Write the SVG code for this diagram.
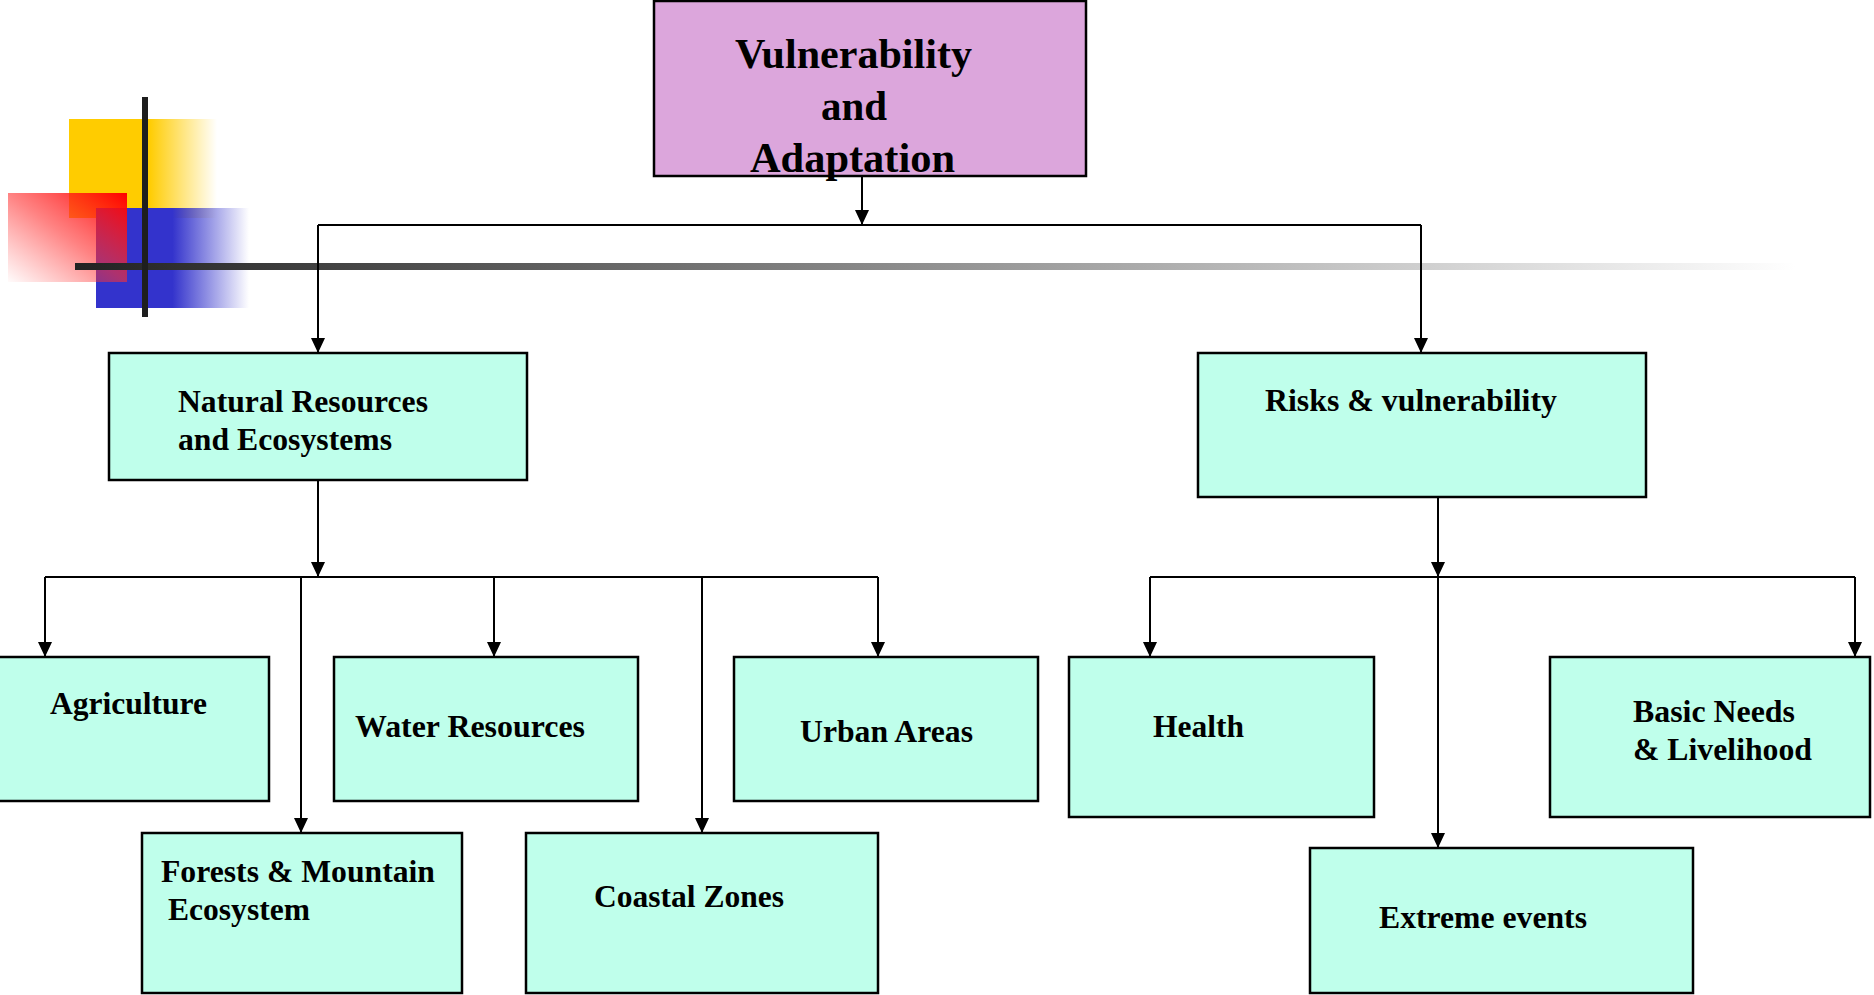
<svg xmlns="http://www.w3.org/2000/svg" width="1874" height="995" viewBox="0 0 1874 995">
  <style>
    .box { fill: #BFFFEB; stroke: #000; stroke-width: 2.5; }
    .top { fill: #DCA6DC; stroke: #000; stroke-width: 2.5; }
    .lbl { font-family: "Liberation Serif", "Times New Roman", serif; font-weight: bold; font-size: 31.5px; fill: #000; }
    .ttl { font-family: "Liberation Serif", "Times New Roman", serif; font-weight: bold; font-size: 42px; fill: #000; }
    .con { fill: none; stroke: #000; stroke-width: 2; }
    .arr { fill: none; stroke: #000; stroke-width: 2; marker-end: url(#head); }
  </style>
  <defs>
    <marker id="head" viewBox="0 0 15 14" refX="15" refY="7" markerWidth="15" markerHeight="14" markerUnits="userSpaceOnUse" orient="auto">
      <path d="M0,0 L15,7 L0,14 z" fill="#000"/>
    </marker>
    <linearGradient id="yellowFade" x1="0" y1="0" x2="1" y2="0">
      <stop offset="0" stop-color="#FFCC00"/>
      <stop offset="0.54" stop-color="#FFCC00"/>
      <stop offset="1" stop-color="#FFCC00" stop-opacity="0"/>
    </linearGradient>
    <linearGradient id="blueFade" x1="0" y1="0" x2="1" y2="0">
      <stop offset="0" stop-color="#3333CC"/>
      <stop offset="0.5" stop-color="#3333CC"/>
      <stop offset="1" stop-color="#3333CC" stop-opacity="0"/>
    </linearGradient>
    <linearGradient id="redFade" x1="1" y1="0" x2="0" y2="1">
      <stop offset="0" stop-color="#FF0000" stop-opacity="1"/>
      <stop offset="0.5" stop-color="#FF3030" stop-opacity="0.6"/>
      <stop offset="1" stop-color="#FF4040" stop-opacity="0.02"/>
    </linearGradient>
    <linearGradient id="barFade" gradientUnits="userSpaceOnUse" x1="75" y1="0" x2="1795" y2="0">
      <stop offset="0" stop-color="#222222"/>
      <stop offset="1" stop-color="#FFFFFF"/>
    </linearGradient>
  </defs>

  <!-- corner ornament -->
  <g id="ornament">
    <rect x="69" y="119" width="148" height="99" fill="url(#yellowFade)"/>
    <rect x="96" y="208" width="153" height="100" fill="url(#blueFade)"/>
    <rect x="8" y="193" width="119" height="89" fill="url(#redFade)"/>
    <rect x="75" y="263" width="1720" height="7" fill="url(#barFade)"/>
    <rect x="142" y="97" width="6" height="220" fill="#1E1E1E"/>
  </g>

  <!-- connectors -->
  <g id="connectors">
    <line class="arr" x1="862" y1="176" x2="862" y2="225"/>
    <line class="con" x1="318" y1="225" x2="1421" y2="225"/>
    <line class="arr" x1="318" y1="225" x2="318" y2="353"/>
    <line class="arr" x1="1421" y1="225" x2="1421" y2="353"/>

    <line class="arr" x1="318" y1="480" x2="318" y2="577"/>
    <line class="con" x1="45" y1="577" x2="878" y2="577"/>
    <line class="arr" x1="45" y1="577" x2="45" y2="657"/>
    <line class="arr" x1="301" y1="577" x2="301" y2="833"/>
    <line class="arr" x1="494" y1="577" x2="494" y2="657"/>
    <line class="arr" x1="702" y1="577" x2="702" y2="833"/>
    <line class="arr" x1="878" y1="577" x2="878" y2="657"/>

    <line class="arr" x1="1438" y1="497" x2="1438" y2="577"/>
    <line class="con" x1="1150" y1="577" x2="1855" y2="577"/>
    <line class="arr" x1="1150" y1="577" x2="1150" y2="657"/>
    <line class="arr" x1="1438" y1="577" x2="1438" y2="848"/>
    <line class="arr" x1="1855" y1="577" x2="1855" y2="657"/>
  </g>

  <g id="vulnerability-adaptation">
    <rect class="top" x="654" y="1" width="432" height="175"/>
    <text class="ttl" x="735" y="68" textLength="237" lengthAdjust="spacingAndGlyphs">Vulnerability</text>
    <text class="ttl" x="821" y="120" textLength="66" lengthAdjust="spacingAndGlyphs">and</text>
    <text class="ttl" x="750" y="172" textLength="205" lengthAdjust="spacingAndGlyphs">Adaptation</text>
  </g>

  <g id="natural-resources">
    <rect class="box" x="109" y="353" width="418" height="127"/>
    <text class="lbl" x="178" y="412" textLength="250" lengthAdjust="spacingAndGlyphs">Natural Resources</text>
    <text class="lbl" x="178" y="450" textLength="214" lengthAdjust="spacingAndGlyphs">and Ecosystems</text>
  </g>

  <g id="risks-vulnerability">
    <rect class="box" x="1198" y="353" width="448" height="144"/>
    <text class="lbl" x="1265" y="411" textLength="292" lengthAdjust="spacingAndGlyphs">Risks &amp; vulnerability</text>
  </g>

  <g id="agriculture">
    <rect class="box" x="-2" y="657" width="271" height="144"/>
    <text class="lbl" x="50" y="714" textLength="157" lengthAdjust="spacingAndGlyphs">Agriculture</text>
  </g>

  <g id="water-resources">
    <rect class="box" x="334" y="657" width="304" height="144"/>
    <text class="lbl" x="355" y="737" textLength="230" lengthAdjust="spacingAndGlyphs">Water Resources</text>
  </g>

  <g id="urban-areas">
    <rect class="box" x="734" y="657" width="304" height="144"/>
    <text class="lbl" x="800" y="742" textLength="173" lengthAdjust="spacingAndGlyphs">Urban Areas</text>
  </g>

  <g id="forests-mountain">
    <rect class="box" x="142" y="833" width="320" height="160"/>
    <text class="lbl" x="161" y="882" textLength="274" lengthAdjust="spacingAndGlyphs">Forests &amp; Mountain</text>
    <text class="lbl" x="168" y="920" textLength="142" lengthAdjust="spacingAndGlyphs">Ecosystem</text>
  </g>

  <g id="coastal-zones">
    <rect class="box" x="526" y="833" width="352" height="160"/>
    <text class="lbl" x="594" y="907" textLength="190" lengthAdjust="spacingAndGlyphs">Coastal Zones</text>
  </g>

  <g id="health">
    <rect class="box" x="1069" y="657" width="305" height="160"/>
    <text class="lbl" x="1153" y="737" textLength="91" lengthAdjust="spacingAndGlyphs">Health</text>
  </g>

  <g id="basic-needs">
    <rect class="box" x="1550" y="657" width="320" height="160"/>
    <text class="lbl" x="1633" y="722" textLength="162" lengthAdjust="spacingAndGlyphs">Basic Needs</text>
    <text class="lbl" x="1633" y="760" textLength="179" lengthAdjust="spacingAndGlyphs">&amp; Livelihood</text>
  </g>

  <g id="extreme-events">
    <rect class="box" x="1310" y="848" width="383" height="145"/>
    <text class="lbl" x="1379" y="928" textLength="208" lengthAdjust="spacingAndGlyphs">Extreme events</text>
  </g>
</svg>
